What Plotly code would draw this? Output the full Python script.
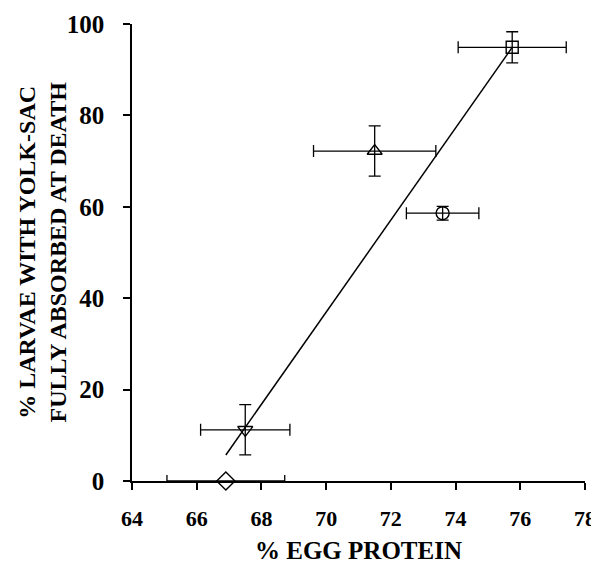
import plotly.graph_objects as go

# Data
egg_protein = [75.75, 71.5, 73.6, 67.5, 66.9]
egg_protein_err = [1.67, 1.89, 1.12, 1.38, 1.82]
larvae_pct = [94.9, 72.2, 58.6, 11.2, 0.0]
larvae_err = [3.4, 5.5, 1.5, 5.5, 0.0]
symbols = ["square-open", "triangle-up-open", "circle-open", "triangle-down-open", "diamond-open"]
sizes = [12, 13, 13, 13, 14]

fit_x = [66.9, 75.75]
fit_y = [5.7, 94.9]

x_ticks = [64, 66, 68, 70, 72, 74, 76, 78]
y_ticks = [0, 20, 40, 60, 80, 100]

FONT = "Liberation Serif, Times New Roman, serif"

fig = go.Figure()

fig.add_trace(go.Scatter(
    x=fit_x, y=fit_y, mode="lines",
    line=dict(color="black", width=1.5),
    showlegend=False, hoverinfo="skip",
))

for i in range(len(egg_protein)):
    fig.add_trace(go.Scatter(
        x=[egg_protein[i]], y=[larvae_pct[i]], mode="markers",
        marker=dict(symbol=symbols[i], size=sizes[i], color="black",
                    line=dict(color="black", width=1.4)),
        error_x=dict(type="data", array=[egg_protein_err[i]], color="black",
                     thickness=1.3, width=6, visible=True),
        error_y=dict(type="data", array=[larvae_err[i]], color="black",
                     thickness=1.3, width=6, visible=larvae_err[i] > 0),
        cliponaxis=False, showlegend=False,
    ))

fig.update_xaxes(
    range=[64, 78], tickvals=x_ticks, ticktext=[str(v) for v in x_ticks],
    showline=True, linecolor="black", linewidth=1.5, showgrid=False, zeroline=False,
    ticks="outside", ticklen=7, tickwidth=1.5, tickcolor="black",
    tickfont=dict(family=FONT, size=22, color="black", weight="bold"),
    ticklabelstandoff=10, automargin=False, ticklabeloverflow="allow",
)
fig.update_yaxes(
    range=[0, 100], tickvals=y_ticks, ticktext=[str(v) for v in y_ticks],
    showline=True, linecolor="black", linewidth=1.5, showgrid=False, zeroline=False,
    ticks="outside", ticklen=7, tickwidth=1.5, tickcolor="black",
    tickfont=dict(family=FONT, size=25, color="black", weight="bold"),
    ticklabelstandoff=14, automargin=False,
)

fig.add_annotation(
    text="% EGG PROTEIN", xref="paper", yref="paper", x=0.5, y=0,
    yshift=-69, showarrow=False, xanchor="center", yanchor="middle",
    font=dict(family=FONT, size=25, color="black", weight="bold"),
)
fig.add_annotation(
    text="% LARVAE WITH YOLK-SAC<br>FULLY ABSORBED AT DEATH",
    xref="paper", yref="paper", x=0, y=0.5, xshift=-90,
    textangle=-90, showarrow=False, xanchor="center", yanchor="middle",
    font=dict(family=FONT, size=24, color="black", weight="bold"),
)

fig.update_layout(
    width=591, height=556,
    margin=dict(l=124, r=14, t=16, b=83),
    plot_bgcolor="white", paper_bgcolor="white",
)

fig.write_html("out.html")
